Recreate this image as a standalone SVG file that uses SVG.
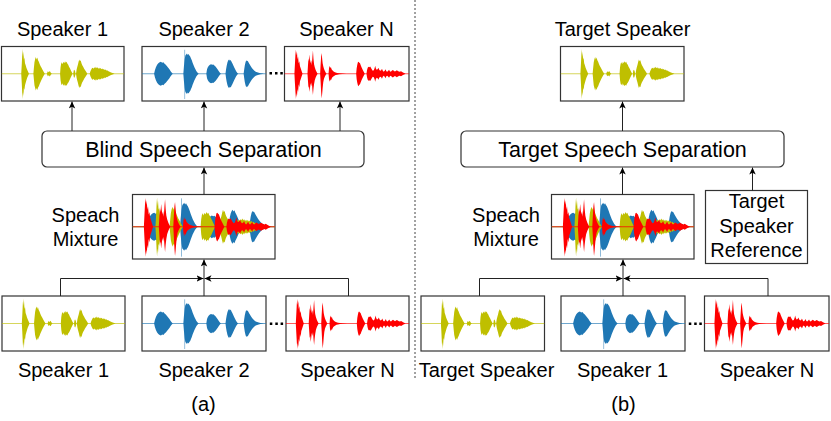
<svg xmlns="http://www.w3.org/2000/svg" xmlns:xlink="http://www.w3.org/1999/xlink" width="831" height="421" viewBox="0 0 831 421">
<style>
text{font-family:"Liberation Sans",Arial,sans-serif;fill:#000;}
.lbl{font-size:20px;text-anchor:middle;}
.blk{font-size:21.5px;text-anchor:middle;}
.box{fill:#fff;stroke:#333;stroke-width:1.2;}
.conn{fill:none;stroke:#222;stroke-width:1;}
.dot{fill:#000;}
.wy{fill:#BFBF00;}
.wb{fill:#1F77B4;}
.wr{fill:#FF0000;}
</style>
<defs>
<marker id="ah" viewBox="0 0 8 8" refX="8" refY="4" markerWidth="7" markerHeight="7" markerUnits="userSpaceOnUse" orient="auto">
<path d="M0,0.3 L8,4 L0,7.7 L2,4 Z" fill="#000"/>
</marker>
<symbol id="wave-y" viewBox="0 0 123 55" preserveAspectRatio="none">
<path d="M0,27.5 H123" stroke="#BFBF00" stroke-width="0.8" opacity="0.8"/>
<g class="wy">
<path d="M19.8,27.5 L20.3,19 L20.8,8 L21.2,2.5 L21.6,10 L22,5 L22.5,13 L23,11 L23.6,17 L24.3,19 L25,21.5 L25.8,23.5 L26.7,25.5 L27.6,27.5 L26.7,29.5 L25.8,31.5 L25,34 L24.3,36.5 L23.6,39 L23,44 L22.5,42 L22,50 L21.6,46 L21.2,53 L20.8,47 L20.3,36 Z"/>
<path d="M32,27.5 L32.5,22 L33.1,16 L33.8,12.5 L34.5,10.5 L35.2,13 L35.9,11 L36.7,14 L37.5,15.5 L38.4,18 L39.3,20 L40.2,21.5 L41.2,23.5 L42.3,25.5 L43.5,27.5 L42.3,29.5 L41.2,31.5 L40.2,33.5 L39.3,35.5 L38.4,37.5 L37.5,40 L36.7,41.5 L35.9,44 L35.2,42 L34.5,44.5 L33.8,42 L33.1,39 L32.5,33 Z"/>
<path d="M45.5,27.5 L46.5,25 L47.5,26 L48.5,24.8 L49.5,26.5 L50.5,27.5 L49.5,28.5 L48.5,30.2 L47.5,29 L46.5,30 Z"/>
<path d="M58.8,27.5 L59.3,21 L59.9,17.5 L60.6,16 L61.4,18 L62.2,15.5 L63,17 L63.8,15 L64.6,16.5 L65.4,15.5 L66.2,17.5 L67,18.5 L67.8,20.5 L68.7,22 L69.6,24 L70.6,26 L71.4,27.5 L70.6,29 L69.6,31 L68.7,33 L67.8,35 L67,36.5 L66.2,37.5 L65.4,39.5 L64.6,38.5 L63.8,40 L63,38 L62.2,39.5 L61.4,37 L60.6,39 L59.9,37.5 L59.3,34 Z"/>
<path d="M72,27.5 L72.6,24 L73.2,23.5 L73.8,25 L74.4,27.5 L73.8,30 L73.2,31.5 L72.6,31 Z"/>
<path d="M74.8,27.5 L75.4,23.5 L76,21 L76.7,18.5 L77.4,15.5 L78.1,13 L78.8,15 L79.5,14 L80.3,17 L81.1,19 L82,20.5 L83,22.5 L84,24 L85,25.5 L86.2,27.5 L85,29.5 L84,31 L83,32.5 L82,34.5 L81.1,36 L80.3,38 L79.5,41 L78.8,40 L78.1,42 L77.4,39.5 L76.7,36.5 L76,34 L75.4,31.5 Z"/>
<path d="M88.5,27.5 L89.3,25 L90,23.5 L90.8,22 L91.6,21.5 L92.4,22.5 L93.2,21 L94,22 L94.8,20.5 L95.6,22 L96.4,21 L97.2,22.5 L98,21.5 L98.8,22.5 L99.6,21.8 L100.4,23 L101.2,22.2 L102,23.2 L102.8,22.6 L103.6,23.8 L104.4,23.2 L105.2,24.2 L106,24 L107,24.8 L108,25.2 L109,25.8 L110,26.2 L111.5,26.8 L113.5,27.5 L111.5,28.2 L110,28.8 L109,29.2 L108,29.8 L107,30.2 L106,31 L105.2,30.8 L104.4,31.8 L103.6,31.2 L102.8,32.4 L102,31.8 L101.2,32.8 L100.4,32 L99.6,33.2 L98.8,32.5 L98,33.5 L97.2,32.5 L96.4,34 L95.6,33 L94.8,34.5 L94,33 L93.2,34 L92.4,32.5 L91.6,33.5 L90.8,33 L90,31.5 L89.3,30 Z"/>
</g>
</symbol>
<symbol id="wave-b" viewBox="0 0 123 55" preserveAspectRatio="none">
<path d="M0,27.5 H123" stroke="#1F77B4" stroke-width="0.8" opacity="0.8"/>
<path d="M42.3,3.3 V53" stroke="#1F77B4" stroke-width="0.9" opacity="0.5"/>
<g class="wb">
<path d="M12,27.5 L12.8,24 L13.8,21 L15,18.5 L16.2,17 L17.5,16 L18.8,15.5 L20,16.5 L21.2,16 L22.4,17.5 L23.6,18.5 L24.8,20 L26,21.5 L27.2,23 L28.4,25 L29.6,26.5 L30.5,27.5 L29.6,28.5 L28.4,30 L27.2,32 L26,33.5 L24.8,35 L23.6,36.5 L22.4,37.5 L21.2,39 L20,38.5 L18.8,39.5 L17.5,39 L16.2,38 L15,36.5 L13.8,34 L12.8,31 Z"/>
<path d="M41,27.5 L41.6,20 L42.3,13 L43,9 L43.8,8 L44.6,7 L45.4,8.5 L46.2,7.5 L47,9 L47.8,10 L48.6,12 L49.4,14 L50.2,16.5 L51,18.5 L52,21 L53,23 L54,25 L55.2,26.5 L56.2,27.5 L55.2,28.5 L54,30 L53,32 L52,34 L51,36.5 L50.2,38.5 L49.4,41 L48.6,43 L47.8,45 L47,46 L46.2,47.5 L45.4,46.5 L44.6,48 L43.8,47 L43,46 L42.3,42 L41.6,35 Z"/>
<path d="M63.8,27.5 L64.5,23 L65.3,21 L66.3,19.5 L67.4,18.5 L68.5,18 L69.6,18.5 L70.7,18.2 L71.8,19.2 L72.9,20.3 L74,21.8 L75.1,23.3 L76.2,25 L77.3,26.5 L78.3,27.5 L77.3,28.5 L76.2,30 L75.1,31.7 L74,33.2 L72.9,34.7 L71.8,35.8 L70.7,36.8 L69.6,36.5 L68.5,37.2 L67.4,36.5 L66.3,35.5 L65.3,34 L64.5,32 Z"/>
<path d="M82.8,27.5 L83.4,23 L84,19.5 L84.8,16 L85.6,14 L86.4,13 L87.2,14.5 L88,13.5 L88.8,15.5 L89.6,17 L90.5,19 L91.4,21 L92.4,23 L93.4,25 L94.6,26.8 L95.5,27.5 L94.6,28.2 L93.4,30 L92.4,32 L91.4,34 L90.5,36 L89.6,38 L88.8,39.5 L88,41.5 L87.2,40.5 L86.4,42 L85.6,41 L84.8,39 L84,35.5 L83.4,32 Z"/>
<path d="M100.8,27.5 L101.4,23 L102,19 L102.7,16 L103.4,14 L104.1,15 L104.8,14.5 L105.6,16 L106.4,17.5 L107.3,19 L108.2,20.5 L109.2,22 L110.3,23.3 L111.5,24.5 L112.8,25.4 L114.2,26 L115.8,26.6 L117.5,27 L119.5,27.3 L121,27.5 L119.5,27.7 L117.5,28 L115.8,28.4 L114.2,29 L112.8,29.6 L111.5,30.5 L110.3,31.7 L109.2,33 L108.2,34.5 L107.3,36 L106.4,37.5 L105.6,39 L104.8,40.5 L104.1,40 L103.4,41 L102.7,39 L102,36 L101.4,32 Z"/>
</g>
</symbol>
<symbol id="wave-r" viewBox="0 0 123 55" preserveAspectRatio="none">
<path d="M0,27.5 H123" stroke="#FF0000" stroke-width="0.8" opacity="0.8"/>
<g class="wr">
<path d="M9.8,27.5 L10.3,18 L10.8,8 L11.3,3 L11.8,9 L12.3,5 L12.8,13 L13.4,10 L14,17 L14.6,15 L15.3,20 L16,22 L16.8,24.5 L17.8,27.5 L16.8,30.5 L16,33 L15.3,35 L14.6,41 L14,38 L13.4,46 L12.8,43 L12.3,51 L11.8,47 L11.3,53 L10.8,46 L10.3,37 Z"/>
<path d="M22.7,27.5 L23.2,19 L23.7,12 L24.2,15 L24.7,8 L25.2,13 L25.8,17 L26.4,14 L27,19 L27.6,10 L28.1,4 L28.6,12 L29.2,18 L29.9,21 L30.7,23.5 L31.6,25.5 L32.7,27.5 L31.6,29.5 L30.7,31.5 L29.9,34 L29.2,38 L28.6,43 L28.1,49 L27.6,44 L27,36 L26.4,40 L25.8,37 L25.2,42 L24.7,46 L24.2,40 L23.7,42 L23.2,35 Z"/>
<path d="M35.2,27.5 L35.7,18 L36.2,10 L36.7,6.5 L37.2,12 L37.7,17 L38.3,20 L39,22.5 L39.8,24.5 L40.8,26.5 L41.5,27.5 L40.8,28.5 L39.8,30.5 L39,32.5 L38.3,36 L37.7,42 L37.2,48 L36.7,52.5 L36.2,46 L35.7,36 Z"/>
<path d="M43.5,27.5 L44,22 L44.6,19.5 L45.2,22 L45.8,20.5 L46.5,23 L47.3,24 L48.2,25 L49.3,25.8 L50.5,26.3 L52,26.7 L54,27 L57,27.2 L61,27.4 L63,27.5 L61,27.6 L57,27.8 L54,28 L52,28.4 L50.5,28.8 L49.3,29.4 L48.2,30.2 L47.3,31 L46.5,32.5 L45.8,34.5 L45.2,33 L44.6,35.5 L44,33 Z"/>
<path d="M70.8,27.5 L71.3,22 L71.9,18.5 L72.5,16 L73.2,15.5 L73.9,16.5 L74.6,17 L75.3,19 L76.1,21 L77,23 L78,25 L79.3,27.5 L78,30 L77,32 L76.1,34 L75.3,36 L74.6,38 L73.9,38.5 L73.2,40 L72.5,39 L71.9,36.5 L71.3,33 Z"/>
<path d="M81,27.5 L81.5,24 L82.2,21.5 L83,20.5 L83.8,21 L84.6,20.2 L85.4,21.5 L86.2,23 L87.2,24.5 L88.2,24 L89,22 L89.6,19.5 L90.2,22 L91,23.5 L92,23 L92.8,21.5 L93.6,23.5 L94.5,24.5 L95.5,24 L96.3,22.5 L97.1,24.5 L98,25.5 L99,24.5 L99.8,23 L100.6,25 L101.5,25.5 L102.5,24.5 L103.3,23.5 L104.1,25 L105,25.5 L106,24.5 L107,23.8 L108,24.5 L109,25.2 L110,24.6 L111,24 L112,24.8 L113,25.2 L114,25.5 L115,25 L116,25.6 L117,26.2 L118.2,26.8 L119.5,27.5 L118.2,28.2 L117,28.8 L116,29.4 L115,30 L114,29.5 L113,29.8 L112,30.2 L111,31 L110,30.4 L109,29.8 L108,30.5 L107,31.2 L106,30.5 L105,29.5 L104.1,30 L103.3,31.5 L102.5,30.5 L101.5,29.5 L100.6,30 L99.8,32 L99,30.5 L98,29.5 L97.1,30.5 L96.3,32.5 L95.5,31 L94.5,30.5 L93.6,31.5 L92.8,33.5 L92,32 L91,31.5 L90.2,33 L89.6,35.5 L89,33 L88.2,31 L87.2,30.5 L86.2,32 L85.4,33.5 L84.6,34.8 L83.8,34 L83,34.5 L82.2,33.5 L81.5,31 Z"/>
</g>
</symbol>
</defs>

<rect x="0" y="0" width="831" height="421" fill="#fff"/>

<!-- divider -->
<line x1="415" y1="0" x2="415" y2="380" stroke="#444" stroke-width="1" stroke-dasharray="2,2"/>

<!-- Panel (a) -->
<g id="a-out-spk1">
<text class="lbl" x="62.5" y="36">Speaker 1</text>
<rect class="box" x="1.5" y="46.5" width="122.5" height="54.5"/>
<use xlink:href="#wave-y" href="#wave-y" x="1.5" y="46.5" width="122.5" height="54.5"/>
</g>
<g id="a-out-spk2">
<text class="lbl" x="204" y="36">Speaker 2</text>
<rect class="box" x="142" y="46.5" width="124" height="54.5"/>
<use xlink:href="#wave-b" href="#wave-b" x="142" y="46.5" width="124" height="54.5"/>
</g>
<g id="a-out-spkN">
<text class="lbl" x="346.5" y="36">Speaker N</text>
<rect class="box" x="284.5" y="46.5" width="124.5" height="54.5"/>
<use xlink:href="#wave-r" href="#wave-r" x="284.5" y="46.5" width="124.5" height="54.5"/>
</g>
<g id="a-out-dots">
<rect class="dot" x="269.5" y="72" width="2.5" height="2.5"/>
<rect class="dot" x="275" y="72" width="2.5" height="2.5"/>
<rect class="dot" x="280.3" y="72" width="2.5" height="2.5"/>
</g>
<g id="a-bss">
<rect class="box" x="42" y="131" width="322" height="36" rx="5" ry="5"/>
<text class="blk" x="203.5" y="157">Blind Speech Separation</text>
</g>
<g id="a-mix">
<text class="lbl" x="85.5" y="222">Speach</text>
<text class="lbl" x="85.5" y="246">Mixture</text>
<rect class="box" x="132.5" y="194.5" width="142.5" height="64.5"/>
<use xlink:href="#wave-b" href="#wave-b" x="132.5" y="194.5" width="142.5" height="64.5"/>
<use xlink:href="#wave-y" href="#wave-y" x="132.5" y="194.5" width="142.5" height="64.5"/>
<use xlink:href="#wave-r" href="#wave-r" x="132.5" y="194.5" width="142.5" height="64.5"/>
</g>
<g id="a-in-spk1">
<rect class="box" x="2" y="296" width="123" height="55"/>
<use xlink:href="#wave-y" href="#wave-y" x="2" y="296" width="123" height="55"/>
<text class="lbl" x="63.5" y="377">Speaker 1</text>
</g>
<g id="a-in-spk2">
<rect class="box" x="142" y="296" width="124" height="55"/>
<use xlink:href="#wave-b" href="#wave-b" x="142" y="296" width="124" height="55"/>
<text class="lbl" x="204" y="377">Speaker 2</text>
</g>
<g id="a-in-spkN">
<rect class="box" x="286" y="296" width="123" height="55"/>
<use xlink:href="#wave-r" href="#wave-r" x="286" y="296" width="123" height="55"/>
<text class="lbl" x="347.5" y="377">Speaker N</text>
</g>
<g id="a-in-dots">
<rect class="dot" x="269.8" y="322.5" width="2.5" height="2.5"/>
<rect class="dot" x="275.3" y="322.5" width="2.5" height="2.5"/>
<rect class="dot" x="280.6" y="322.5" width="2.5" height="2.5"/>
</g>
<text class="lbl" x="203.5" y="411">(a)</text>

<!-- Panel (b) -->
<g id="b-out-target">
<text class="lbl" x="622.5" y="36">Target Speaker</text>
<rect class="box" x="560.5" y="46.5" width="123.5" height="54.5"/>
<use xlink:href="#wave-y" href="#wave-y" x="560.5" y="46.5" width="123.5" height="54.5"/>
</g>
<g id="b-tss">
<rect class="box" x="461" y="131" width="323" height="36" rx="5" ry="5"/>
<text class="blk" x="622.5" y="157">Target Speech Separation</text>
</g>
<g id="b-mix">
<text class="lbl" x="506" y="222">Speach</text>
<text class="lbl" x="506" y="246">Mixture</text>
<rect class="box" x="551.5" y="194.5" width="142.5" height="64.5"/>
<use xlink:href="#wave-b" href="#wave-b" x="551.5" y="194.5" width="142.5" height="64.5"/>
<use xlink:href="#wave-y" href="#wave-y" x="551.5" y="194.5" width="142.5" height="64.5"/>
<use xlink:href="#wave-r" href="#wave-r" x="551.5" y="194.5" width="142.5" height="64.5"/>
</g>
<g id="b-ref">
<rect class="box" x="705.5" y="190.5" width="102" height="73"/>
<text class="lbl" x="756.5" y="208">Target</text>
<text class="lbl" x="756.5" y="232.5">Speaker</text>
<text class="lbl" x="756.5" y="256.5">Reference</text>
</g>
<g id="b-in-target">
<rect class="box" x="421" y="296" width="123.5" height="55"/>
<use xlink:href="#wave-y" href="#wave-y" x="421" y="296" width="123.5" height="55"/>
<text class="lbl" x="486.5" y="377">Target Speaker</text>
</g>
<g id="b-in-spk1">
<rect class="box" x="561" y="296" width="124" height="55"/>
<use xlink:href="#wave-b" href="#wave-b" x="561" y="296" width="124" height="55"/>
<text class="lbl" x="622.5" y="377">Speaker 1</text>
</g>
<g id="b-in-spkN">
<rect class="box" x="704.5" y="296" width="124.5" height="55"/>
<use xlink:href="#wave-r" href="#wave-r" x="704.5" y="296" width="124.5" height="55"/>
<text class="lbl" x="767" y="377">Speaker N</text>
</g>
<g id="b-in-dots">
<rect class="dot" x="688.8" y="322.5" width="2.5" height="2.5"/>
<rect class="dot" x="694.2" y="322.5" width="2.5" height="2.5"/>
<rect class="dot" x="699.3" y="322.5" width="2.5" height="2.5"/>
</g>
<text class="lbl" x="623.5" y="411">(b)</text>

<!-- connectors -->
<g id="connectors" class="conn" marker-end="url(#ah)">
<path d="M72,131 V101.5"/>
<path d="M204,131 V101.5"/>
<path d="M340,131 V101.5"/>
<path d="M204,194.5 V167.5"/>
<path d="M204,296 V259.5"/>
<path d="M60.5,296 V278.5 H203.5"/>
<path d="M348.5,296 V278.5 H204.5"/>
<path d="M622.5,131 V101.5"/>
<path d="M622.5,194.5 V167.5"/>
<path d="M752.5,190.5 V167.5"/>
<path d="M623,296 V259.5"/>
<path d="M479.5,296 V278.5 H622.5"/>
<path d="M768,296 V278.5 H623.5"/>
</g>
</svg>
